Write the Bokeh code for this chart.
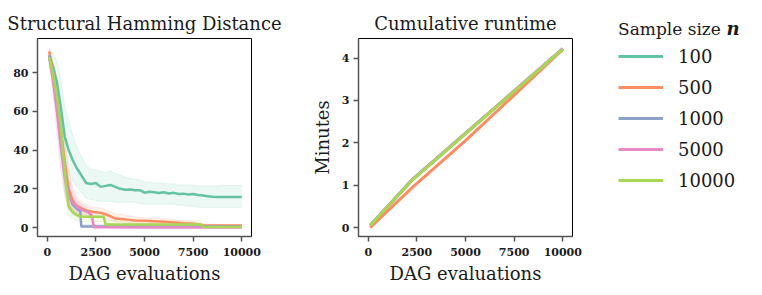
from bokeh.plotting import figure
from bokeh.layouts import row, column
from bokeh.models import Range1d, FixedTicker, Legend, LegendItem, Label
from bokeh.embed import file_html
from bokeh.resources import INLINE

# ---------------- data ----------------
sample_sizes = ["100", "500", "1000", "5000", "10000"]
colors = ["#66c2a5", "#fc8d62", "#8da0cb", "#e78ac3", "#a6d854"]

# Structural Hamming Distance (mean and band) vs DAG evaluations
x_100 = [100, 300, 500, 700, 900, 1100, 1300, 1500, 1750, 2000, 2250, 2500, 2750, 3000,
         3250, 3500, 3750, 4000, 4250, 4500, 4750, 5000, 5250, 5500, 5750, 6000, 6250,
         6500, 6750, 7000, 7250, 7500, 7750, 8000, 8250, 8500, 8750, 9000, 9250, 9500,
         9750, 10000]
y_100 = [88, 83, 75, 62, 47, 40, 35, 31, 27, 23, 22.5, 23, 21, 21.5, 22, 21, 20, 19.5,
         19.6, 19.2, 19.3, 18, 18.5, 18.2, 17.8, 18.2, 17.6, 17.9, 17.3, 17.5, 17.1, 17.3,
         16.8, 16.5, 16.2, 15.9, 15.8, 15.7, 15.8, 15.7, 15.7, 15.7]
hi_100 = [92, 90, 86, 76, 62, 55, 48, 42, 37, 32, 30, 30, 29, 28.5, 29, 28, 27, 26, 25.5,
          25, 24.5, 23.5, 23.5, 23, 23, 23, 22.5, 22.5, 22, 22, 22, 21.8, 21.5, 21.5, 21.5,
          21.5, 21.5, 21.7, 21.7, 21.7, 21.7, 21.7]
lo_100 = [84, 74, 62, 46, 33, 28, 24, 21, 18, 15, 14.5, 14, 13.5, 13.5, 13.5, 13, 13, 13,
          13, 13, 12.5, 12, 12, 12, 12, 12, 12, 12, 11.5, 11.5, 11, 11, 10.5, 10.3, 10.3,
          10.3, 10.3, 10.3, 10.3, 10.3, 10.3, 10.3]

x_500 = [100, 300, 500, 700, 900, 1100, 1300, 1500, 1800, 2100, 2400, 2800, 3200, 3500,
         4000, 4500, 5000, 6000, 7000, 7500, 8000, 9000, 10000]
y_500 = [91, 80, 66, 50, 33, 20, 14, 11.5, 9.8, 8.5, 8, 7.5, 6, 4.6, 4.2, 3.6, 3.5, 3,
         2.2, 2, 1.2, 1, 1]
hi_500 = [93, 86, 76, 62, 45, 30, 21, 16, 13, 11.5, 10.5, 10, 8.5, 7, 6.5, 5.5, 5, 4.5,
          3.5, 3, 2, 1.5, 1.5]
lo_500 = [89, 74, 56, 38, 22, 12, 9, 7.5, 7, 6, 5.5, 5, 4, 3, 2.5, 2, 2, 1.8, 1.2, 1,
          0.5, 0.5, 0.5]

x_1000 = [100, 300, 500, 700, 900, 1100, 1300, 1500, 1700, 1750, 2500, 5000, 7500, 10000]
y_1000 = [89, 78, 63, 46, 28, 17, 12, 10, 8.5, 0.5, 0.5, 0.5, 0.5, 0.5]
hi_1000 = [92, 84, 72, 57, 38, 25, 17, 14, 12, 1.5, 1.5, 1.2, 1, 1]
lo_1000 = [86, 72, 54, 35, 18, 10, 7, 6, 5, 0, 0, 0, 0, 0]

x_5000 = [100, 300, 500, 700, 900, 1100, 1300, 1500, 1800, 2100, 2300, 2400, 3000, 5000,
          7500, 10000]
y_5000 = [88, 76, 60, 42, 26, 16, 13, 11, 9, 8, 6, 0.1, 0.1, 0, 0, 0]
hi_5000 = [91, 84, 72, 56, 38, 26, 19, 15, 12, 10.5, 8.5, 1, 1, 0.5, 0.5, 0.5]
lo_5000 = [85, 68, 48, 30, 16, 9, 7, 6, 5.5, 5, 3.5, 0, 0, 0, 0, 0]

x_10000 = [100, 300, 500, 700, 800, 900, 1000, 1100, 1300, 1500, 1700, 2000, 2500, 2900,
           3000, 5000, 7900, 8000, 10000]
y_10000 = [88, 79, 68, 52, 40, 30, 20, 11, 8, 6.5, 5.7, 5.5, 5.5, 5.5, 1.6, 1.5, 1.5, 0.3, 0.3]
hi_10000 = [91, 85, 76, 62, 51, 41, 30, 18, 12, 10, 8.5, 8, 8, 8, 4, 3.5, 3.5, 1, 1]
lo_10000 = [85, 73, 60, 42, 30, 20, 12, 6, 4.5, 3.5, 3, 3, 3, 3, 0.3, 0.3, 0.3, 0, 0]

shd_x = [x_100, x_500, x_1000, x_5000, x_10000]
shd_y = [y_100, y_500, y_1000, y_5000, y_10000]
shd_hi = [hi_100, hi_500, hi_1000, hi_5000, hi_10000]
shd_lo = [lo_100, lo_500, lo_1000, lo_5000, lo_10000]

# Cumulative runtime (minutes) vs DAG evaluations
rt_x = [100, 2300, 10000]
rt_x_500 = [100, 2300, 5000, 10000]
rt_100 = [0.05, 1.14, 4.21]
rt_500 = [0.0, 0.96, 2.05, 4.2]
rt_1000 = [0.05, 1.15, 4.22]
rt_5000 = [0.05, 1.15, 4.22]
rt_10000 = [0.05, 1.14, 4.21]
rt_xs = [rt_x, rt_x_500, rt_x, rt_x, rt_x]
rt_ys = [rt_100, rt_500, rt_1000, rt_5000, rt_10000]

x_ticks = [0, 2500, 5000, 7500, 10000]
shd_ticks = [0, 20, 40, 60, 80]
rt_ticks = [0, 1, 2, 3, 4]

FONT = "DejaVu Serif"
TXT = "#1a1a1a"


def style(p, xt, yt):
    p.grid.visible = False
    p.outline_line_color = "black"
    p.outline_line_width = 1
    for ax in (p.xaxis[0], p.yaxis[0]):
        ax.axis_line_color = "#555555"
        ax.axis_line_width = 1.5
        ax.major_tick_line_color = "#555555"
        ax.major_tick_line_width = 1.5
        ax.major_tick_out = 5
        ax.major_tick_in = 0
        ax.minor_tick_line_color = None
        ax.major_label_text_font = FONT
        ax.major_label_text_font_style = "bold"
        ax.major_label_text_font_size = "11px"
        ax.major_label_text_color = TXT
        ax.major_label_standoff = 4
        ax.axis_label_text_font = FONT
        ax.axis_label_text_font_style = "normal"
        ax.axis_label_text_font_size = "18px"
        ax.axis_label_text_color = TXT
    p.xaxis[0].ticker = FixedTicker(ticks=xt)
    p.yaxis[0].ticker = FixedTicker(ticks=yt)
    p.xaxis[0].axis_label = "DAG evaluations"
    p.xaxis[0].major_label_standoff = 6
    p.xaxis[0].axis_label_standoff = 4
    p.title.align = "center"
    p.title.text_font = FONT
    p.title.text_font_size = "18px"
    p.title.text_font_style = "normal"
    p.title.text_color = TXT
    p.title.standoff = 10


# ---------------- left: SHD ----------------
p1 = figure(width=308, height=295, x_range=Range1d(-500, 10500),
            y_range=Range1d(-4.65, 97.65), title="Structural Hamming Distance",
            output_backend="svg", toolbar_location=None,
            min_border_left=37, min_border_right=57, min_border_top=38,
            min_border_bottom=59)
style(p1, x_ticks, shd_ticks)

for xs, lo, hi, c in zip(shd_x, shd_lo, shd_hi, colors):
    p1.varea(x=xs, y1=lo, y2=hi, fill_color=c, fill_alpha=0.12)
    p1.line(xs, lo, line_color=c, line_alpha=0.15, line_width=1)
    p1.line(xs, hi, line_color=c, line_alpha=0.15, line_width=1)
for xs, ys, c in zip(shd_x, shd_y, colors):
    p1.line(xs, ys, line_color=c, line_width=2.5)

# ---------------- middle: runtime ----------------
p2 = figure(width=274, height=295, x_range=Range1d(-500, 10500),
            y_range=Range1d(-0.21, 4.46), title="Cumulative runtime",
            output_backend="svg", toolbar_location=None,
            min_border_left=50, min_border_right=10, min_border_top=38,
            min_border_bottom=59)
style(p2, x_ticks, rt_ticks)
p2.yaxis[0].axis_label = "Minutes"
p2.yaxis[0].axis_label_standoff = 6

for xs, ys, c in zip(rt_xs, rt_ys, colors):
    p2.line(xs, ys, line_color=c, line_width=3)

# ---------------- right: legend panel ----------------
p3 = figure(width=180, height=295, x_range=Range1d(-1000, -900),
            y_range=Range1d(-10, -9), x_axis_type=None, y_axis_type=None,
            output_backend="svg", toolbar_location=None,
            min_border_left=0, min_border_right=0, min_border_top=0,
            min_border_bottom=0, outline_line_color=None)
p3.grid.visible = False
items = []
for xs, ys, c, lab in zip(rt_xs, rt_ys, colors, sample_sizes):
    r = p3.line(xs, ys, line_color=c, line_width=3)
    items.append(LegendItem(label=lab, renderers=[r]))

legend = Legend(items=items, location=(36, 100), title="Sample size",
                title_text_font=FONT, title_text_font_size="17px",
                title_text_font_style="normal", title_text_color=TXT,
                title_standoff=2,
                label_text_font=FONT, label_text_font_size="18px",
                label_text_color=TXT, glyph_width=45, glyph_height=30,
                label_height=30, spacing=1, label_standoff=15, padding=0,
                margin=0, border_line_alpha=0, background_fill_alpha=0)
p3.add_layout(legend)
p3.add_layout(Label(x=144, y=267, x_units="screen", y_units="screen", text="n",
                    text_font=FONT, text_font_style="bold italic",
                    text_font_size="18px", text_color=TXT,
                    text_baseline="middle"))

layout = row(row(p1, p2), column(p3))
open("out.html", "w").write(file_html(layout, INLINE))
